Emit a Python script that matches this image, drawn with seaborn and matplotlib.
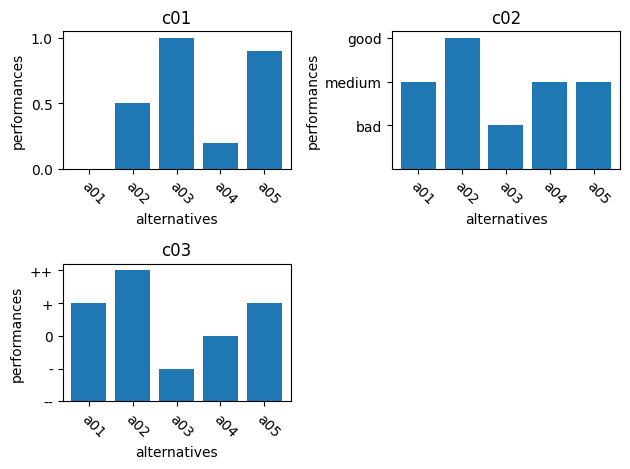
import pandas as pd
import matplotlib
matplotlib.use("Agg")
import matplotlib.pyplot as plt
import seaborn as sns

# données
alternatives = ['a01', 'a02', 'a03', 'a04', 'a05']
c01_values = [0.0, 0.5, 1.0, 0.2, 0.9]
c02_labels = ['bad', 'medium', 'good']
c02_values = ['medium', 'good', 'bad', 'medium', 'medium']
c03_labels = ['--', '-', '0', '+', '++']
c03_values = ['+', '++', '-', '0', '+']

fig, axes = plt.subplots(2, 2, figsize=(6.4, 4.8), dpi=100)

def draw(ax, values, title):
    df = pd.DataFrame({'alternatives': alternatives, 'performances': values})
    sns.barplot(data=df, x='alternatives', y='performances', ax=ax,
                color='#1f77b4', saturation=1, width=0.8)
    ax.set_title(title)
    ax.set_xlabel('alternatives')
    ax.set_ylabel('performances')
    plt.setp(ax.get_xticklabels(), rotation=-45, ha='left', rotation_mode='anchor')
    ax.set_xlim(-0.6, len(alternatives) - 0.4)

# c01 : échelle numérique
draw(axes[0, 0], c01_values, 'c01')
axes[0, 0].set_ylim(0, 1.05)
axes[0, 0].set_yticks([0.0, 0.5, 1.0])

# c02 : échelle ordinale
c02_num = [c02_labels.index(v) + 1 for v in c02_values]
draw(axes[0, 1], c02_num, 'c02')
axes[0, 1].set_ylim(0, len(c02_labels) * 1.05)
axes[0, 1].set_yticks(range(1, len(c02_labels) + 1))
axes[0, 1].set_yticklabels(c02_labels)

# c03 : échelle ordinale
c03_num = [c03_labels.index(v) for v in c03_values]
draw(axes[1, 0], c03_num, 'c03')
axes[1, 0].set_ylim(0, (len(c03_labels) - 1) * 1.05)
axes[1, 0].set_yticks(range(len(c03_labels)))
axes[1, 0].set_yticklabels(c03_labels)

axes[1, 1].remove()

plt.tight_layout()
plt.savefig('out.png', bbox_inches='tight')
